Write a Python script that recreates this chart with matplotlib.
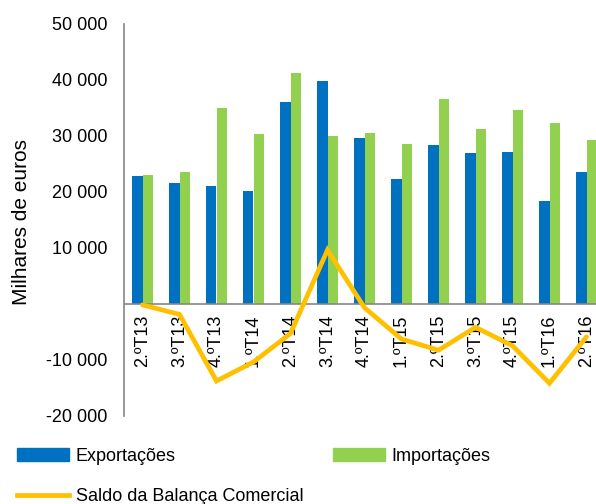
import matplotlib.pyplot as plt
import numpy as np
from matplotlib.patches import Patch
from matplotlib.lines import Line2D

plt.rcParams['font.family'] = ['Liberation Sans', 'DejaVu Sans']

# dados (milhares de euros)
trimestres = ['2.ºT13', '3.ºT13', '4.ºT13', '1.ºT14', '2.ºT14', '3.ºT14', '4.ºT14',
              '1.ºT15', '2.ºT15', '3.ºT15', '4.ºT15', '1.ºT16', '2.ºT16']
exportacoes = [22800, 21500, 21000, 20100, 36100, 39800, 29700,
               22300, 28400, 27000, 27100, 18300, 23500]
importacoes = [23000, 23500, 34900, 30300, 41200, 30000, 30500,
               28600, 36600, 31200, 34600, 32300, 29300]
saldo = [-200, -1900, -13800, -10400, -5300, 9600, -700,
         -6300, -8300, -4200, -7500, -14200, -5900]
yticks = [-20000, -10000, 0, 10000, 20000, 30000, 40000, 50000]
ylabels = ['-20 000', '-10 000', '', '10 000', '20 000', '30 000', '40 000', '50 000']

azul = '#0070C0'
verde = '#92D050'
amarelo = '#FFC000'

fig = plt.figure(figsize=(5.96, 5.04), dpi=100)
ax = fig.add_axes([124/596, 88.3/504, 481/596, 391.7/504])

for s in ['top', 'right']:
    ax.spines[s].set_visible(False)
ax.spines['bottom'].set_position(('data', 0))
for s in ['left', 'bottom']:
    ax.spines[s].set_color('#868686')
    ax.spines[s].set_linewidth(1.2)

x = np.arange(len(trimestres))
w = 0.29
ax.bar(x - w/2, exportacoes, w, color=azul, zorder=2)
ax.bar(x + w/2, importacoes, w, color=verde, zorder=2)
ax.plot(x, saldo, color=amarelo, lw=3.4, solid_capstyle='round',
        solid_joinstyle='miter', zorder=4)

ax.set_xlim(-0.5, len(trimestres) - 0.5)
ax.set_ylim(-20000, 50000)
ax.set_yticks(yticks)
ax.set_yticklabels(ylabels, fontsize=13)
ax.set_xticks(x)
ax.set_xticklabels(trimestres, rotation=90, fontsize=13, va='top', ha='center')
ax.tick_params(axis='both', length=0)
ax.tick_params(axis='y', pad=12)
ax.tick_params(axis='x', pad=8)

fig.text(22/596, 1 - 222/504, 'Milhares de euros', rotation=90,
         ha='center', va='center', fontsize=15)

handles = [Patch(color=azul), Line2D([], [], color=amarelo, lw=3.4),
           Patch(color=verde)]
labels = ['Exportações', 'Saldo da Balança Comercial', 'Importações']
fig.legend(handles, labels, loc='upper left', bbox_to_anchor=(17/596, 1 - 448/504),
           ncol=2, frameon=False, fontsize=13, borderpad=0, borderaxespad=0,
           handlelength=2.9, handletextpad=0.35, columnspacing=1.62,
           labelspacing=1.27)

fig.savefig('out.png', dpi=100)
